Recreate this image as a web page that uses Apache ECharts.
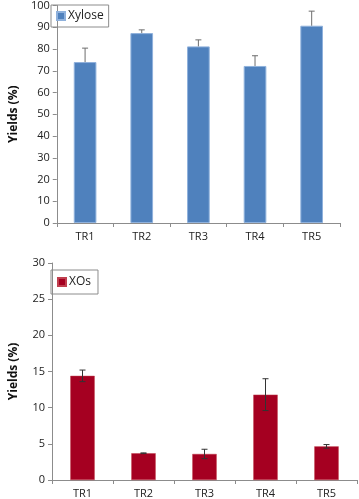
<!DOCTYPE html>
<html>
<head>
<meta charset="utf-8">
<style>
  html, body { margin: 0; padding: 0; background: #fff; }
  #chart { width: 359px; height: 499px; }
</style>
<script src="https://cdn.jsdelivr.net/npm/echarts@6/dist/echarts.min.js"></script>
</head>
<body>
<div id="chart"></div>
<script>
// categories and values
var categories = ['TR1', 'TR2', 'TR3', 'TR4', 'TR5'];
var xyloseMean = [74.0, 87.3, 81.2, 72.2, 90.7];
var xyloseErr = [6.4, 1.5, 3.0, 4.7, 6.7];
var xosMean = [14.4, 3.7, 3.6, 11.8, 4.65];
var xosErr = [0.8, 0.05, 0.65, 2.2, 0.25];
var xyloseTicks = [0, 10, 20, 30, 40, 50, 60, 70, 80, 90, 100];
var xosTicks = [0, 5, 10, 15, 20, 25, 30];

var font = 'Open Sans, Noto Sans, sans-serif';

// error bar drawer: upOnly = true draws only the plus side
function errorBars(upOnly) {
    return function (params, api) {
        var i = api.value(0);
        var mean = api.value(1);
        var err = api.value(2);
        var hi = api.coord([i, mean + err]);
        var lo = api.coord([i, upOnly ? mean : mean - err]);
        var cap = 3;
        var style = { stroke: upOnly ? '#6d6d6d' : '#333', lineWidth: 1 };
        var children = [
            { type: 'line', shape: { x1: hi[0], y1: hi[1], x2: lo[0], y2: lo[1] }, style: style },
            { type: 'line', shape: { x1: hi[0] - cap, y1: hi[1], x2: hi[0] + cap, y2: hi[1] }, style: style }
        ];
        if (!upOnly) {
            children.push({ type: 'line', shape: { x1: lo[0] - cap, y1: lo[1], x2: lo[0] + cap, y2: lo[1] }, style: style });
        }
        return { type: 'group', children: children };
    };
}

function catAxis(gridIndex) {
    return {
        type: 'category',
        gridIndex: gridIndex,
        data: categories,
        axisLine: { lineStyle: { color: '#8c8c8c' } },
        axisTick: { show: true, length: 4, lineStyle: { color: '#8c8c8c' } },
        axisLabel: { color: '#222', fontSize: 11, fontFamily: font, margin: 8 }
    };
}

function valAxis(gridIndex, ticks) {
    return {
        type: 'value',
        gridIndex: gridIndex,
        min: ticks[0],
        max: ticks[ticks.length - 1],
        interval: ticks[1] - ticks[0],
        name: 'Yields (%)',
        nameLocation: 'middle',
        nameGap: 32,
        nameTextStyle: { color: '#111', fontSize: 12, fontWeight: 'bold', fontFamily: font },
        axisLine: { show: true, lineStyle: { color: '#8c8c8c' } },
        axisTick: { show: true, length: 4, lineStyle: { color: '#8c8c8c' } },
        axisLabel: { color: '#222', fontSize: 11, fontFamily: font, margin: 7 },
        splitLine: { show: false }
    };
}

function legendBox(name, top, pad) {
    return {
        data: [name],
        left: 51, top: top,
        icon: 'rect', itemWidth: 8, itemHeight: 8, itemGap: 4,
        borderColor: '#8c8c8c', borderWidth: 1, borderRadius: 0,
        padding: pad,
        textStyle: { color: '#222', fontSize: 12, fontFamily: font, padding: [0, 0, 0, -2] }
    };
}

var chart = echarts.init(document.getElementById('chart'));

var option = {
    animation: false,
    backgroundColor: '#fff',
    grid: [
        { left: 40, top: 5, width: 300, height: 218 },
        { left: 40, top: 263, width: 317, height: 218 }
    ],
    legend: [
        legendBox('Xylose', 5, [5, 5, 5, 5]),
        legendBox('XOs', 270, [6, 7, 6, 6])
    ],
    xAxis: [catAxis(0), catAxis(1)],
    yAxis: [valAxis(0, xyloseTicks), valAxis(1, xosTicks)],
    series: [
        {
            name: 'Xylose',
            type: 'bar',
            xAxisIndex: 0, yAxisIndex: 0,
            barWidth: '40%',
            itemStyle: { color: '#4f81bd', borderColor: '#8fb1dc', borderWidth: 1 },
            data: xyloseMean
        },
        {
            type: 'custom',
            xAxisIndex: 0, yAxisIndex: 0,
            renderItem: errorBars(true),
            encode: { x: 0, y: 1 },
            z: 5,
            data: xyloseMean.map(function (m, i) { return [i, m, xyloseErr[i]]; })
        },
        {
            name: 'XOs',
            type: 'bar',
            xAxisIndex: 1, yAxisIndex: 1,
            barWidth: '40%',
            itemStyle: { color: '#a50021', borderColor: '#c0404f', borderWidth: 0.5 },
            data: xosMean
        },
        {
            type: 'custom',
            xAxisIndex: 1, yAxisIndex: 1,
            renderItem: errorBars(false),
            encode: { x: 0, y: 1 },
            z: 5,
            data: xosMean.map(function (m, i) { return [i, m, xosErr[i]]; })
        }
    ]
};

chart.setOption(option);
</script>
</body>
</html>
